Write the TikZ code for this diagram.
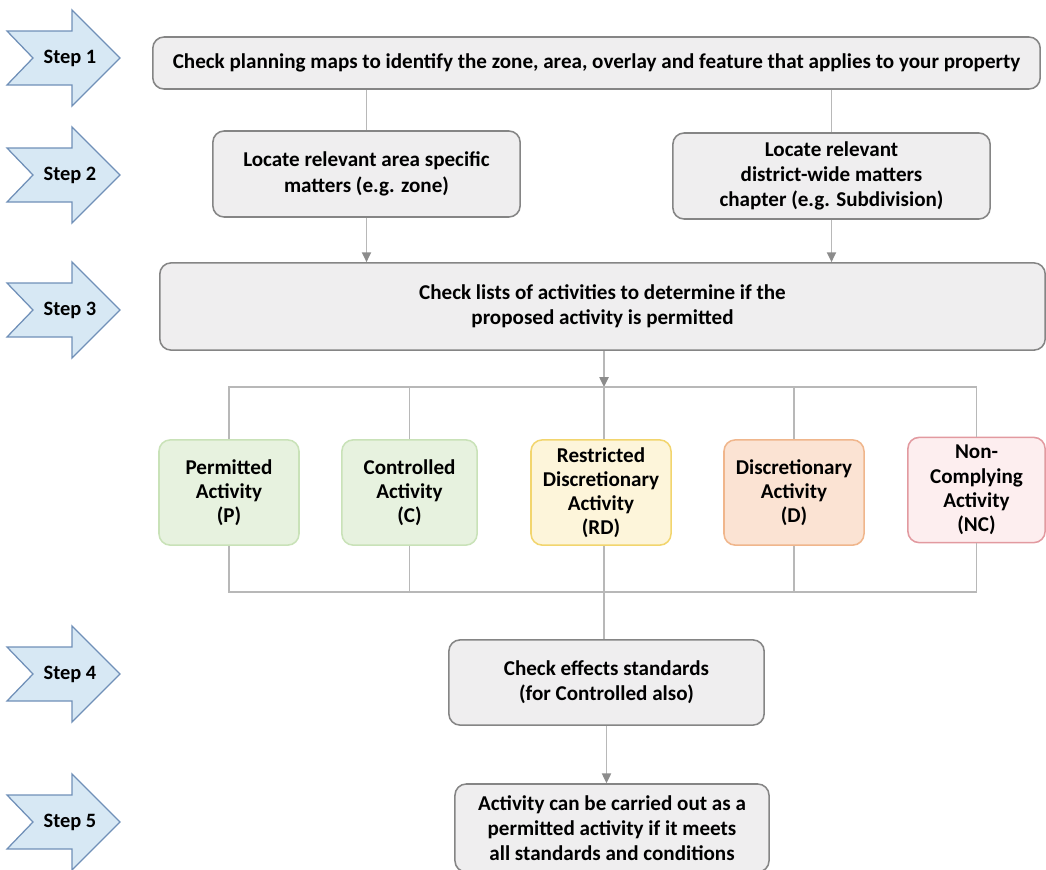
\documentclass[tikz,border=0pt]{standalone}
\usepackage{fontspec}
\setmainfont{Carlito}
\usetikzlibrary{arrows.meta}

\definecolor{boxfill}{HTML}{EFEEEF}
\definecolor{boxline}{HTML}{858585}
\definecolor{wirecol}{HTML}{B8B8B8}
\definecolor{tipcol}{HTML}{8C8C8C}
\definecolor{stepfill}{HTML}{D7E8F4}
\definecolor{stepline}{HTML}{7090B8}
\definecolor{pfill}{HTML}{E7F2DF}
\definecolor{pline}{HTML}{C9E2B8}
\definecolor{rdfill}{HTML}{FDF5DA}
\definecolor{rdline}{HTML}{F2D56E}
\definecolor{dfill}{HTML}{FBE3D3}
\definecolor{dline}{HTML}{F0B68C}
\definecolor{ncfill}{HTML}{FDEEEF}
\definecolor{ncline}{HTML}{E29AA0}

\begin{document}
\begin{tikzpicture}[x=0.025cm, y=-0.025cm,
    box/.style={draw=boxline, fill=boxfill, line width=1.1pt, rounded corners=8pt,
      align=center, inner sep=2pt, font=\fontsize{15}{18}\selectfont\bfseries},
    act/.style={box, minimum width=3.5cm, minimum height=2.63cm,
      font=\fontsize{15}{17.2}\selectfont\bfseries},
    wire/.style={draw=wirecol, line width=1.1pt},
    arr/.style={wire, -{Triangle[length=7pt,width=6.5pt,color=tipcol]}},
    pics/steparrow/.style={code={
        \draw[draw=stepline, fill=stepfill, line width=0.9pt]
          (-57,-27) -- (8,-27) -- (8,-48) -- (56,0) -- (8,48) -- (8,27)
          -- (-57,27) -- (-31,0) -- cycle;
        \node[font=\fontsize{14.5}{16}\selectfont\bfseries] (-lbl) at (6,0) {#1};
    }}]
    \useasboundingbox (0,0) rectangle (1046,869);

    % Steps
    \pic (s1) at (64,58)  {steparrow={Step 1}};
    \pic (s2) at (64,175) {steparrow={Step 2}};
    \pic (s3) at (64,310) {steparrow={Step 3}};
    \pic (s4) at (64,674) {steparrow={Step 4}};
    \pic (s5) at (64,822) {steparrow={Step 5}};

    % Boxes
    \node[box, minimum width=22.18cm, minimum height=1.3cm] (maps) at (596.5,63)
      {Check planning maps to identify the zone, area, overlay and feature that applies to your property};
    \node[box, minimum width=7.68cm, minimum height=2.15cm] (area) at (366.5,174)
      {Locate relevant area specific\\matters (e.g. zone)};
    \node[box, minimum width=7.93cm, minimum height=2.15cm] (district) at (831.5,176)
      {Locate relevant\\district-wide matters\\chapter (e.g. Subdivision)};
    \node[box, minimum width=22.13cm, minimum height=2.18cm] (lists) at (602.5,306.5)
      {Check lists of activities to determine if the\\proposed activity is permitted};

    % Activity classes
    \node[act, fill=pfill, draw=pline] (P) at (229,492.5) {Permitted\\Activity\\(P)};
    \node[act, fill=pfill, draw=pline, minimum width=3.38cm] (C) at (409.5,492.5) {Controlled\\Activity\\(C)};
    \node[act, fill=rdfill, draw=rdline] (RD) at (601,492.5) {Restricted\\Discretionary\\Activity\\(RD)};
    \node[act, fill=dfill, draw=dline] (D) at (794,492.5) {Discretionary\\Activity\\(D)};
    \node[act, fill=ncfill, draw=ncline, minimum width=3.43cm] (NC) at (976.5,490) {Non-\\Complying\\Activity\\(NC)};

    \node[box, minimum width=7.88cm, minimum height=2.13cm] (effects) at (606.5,682.5)
      {Check effects standards\\(for Controlled also)};
    \node[box, minimum width=7.85cm, minimum height=2.2cm] (outcome) at (612,828)
      {Activity can be carried out as a\\permitted activity if it meets\\all standards and conditions};

    % Connectors
    \coordinate (fork) at (604,387);
    \coordinate (join) at (604,592);
    \draw[wire] (area.north) -- (area.north |- maps.south);
    \draw[wire] (district.north) -- (district.north |- maps.south);
    \draw[arr] (area.south) -- (area.south |- lists.north);
    \draw[arr] (district.south) -- (district.south |- lists.north);
    \draw[arr] (lists.south -| fork) -- (fork);
    \draw[wire] (P.north) |- (fork) -| (NC.north);
    \draw[wire] (C.north) -- (C.north |- fork);
    \draw[wire] (D.north) -- (D.north |- fork);
    \draw[wire] (fork) -- (RD.north -| fork);
    \draw[wire] (P.south) |- (join) -| (NC.south);
    \draw[wire] (C.south) -- (C.south |- join);
    \draw[wire] (D.south) -- (D.south |- join);
    \draw[wire] (RD.south -| join) -- (join) -- (effects.north -| join);
    \draw[arr] (effects.south) -- (effects.south |- outcome.north);
\end{tikzpicture}
\end{document}
